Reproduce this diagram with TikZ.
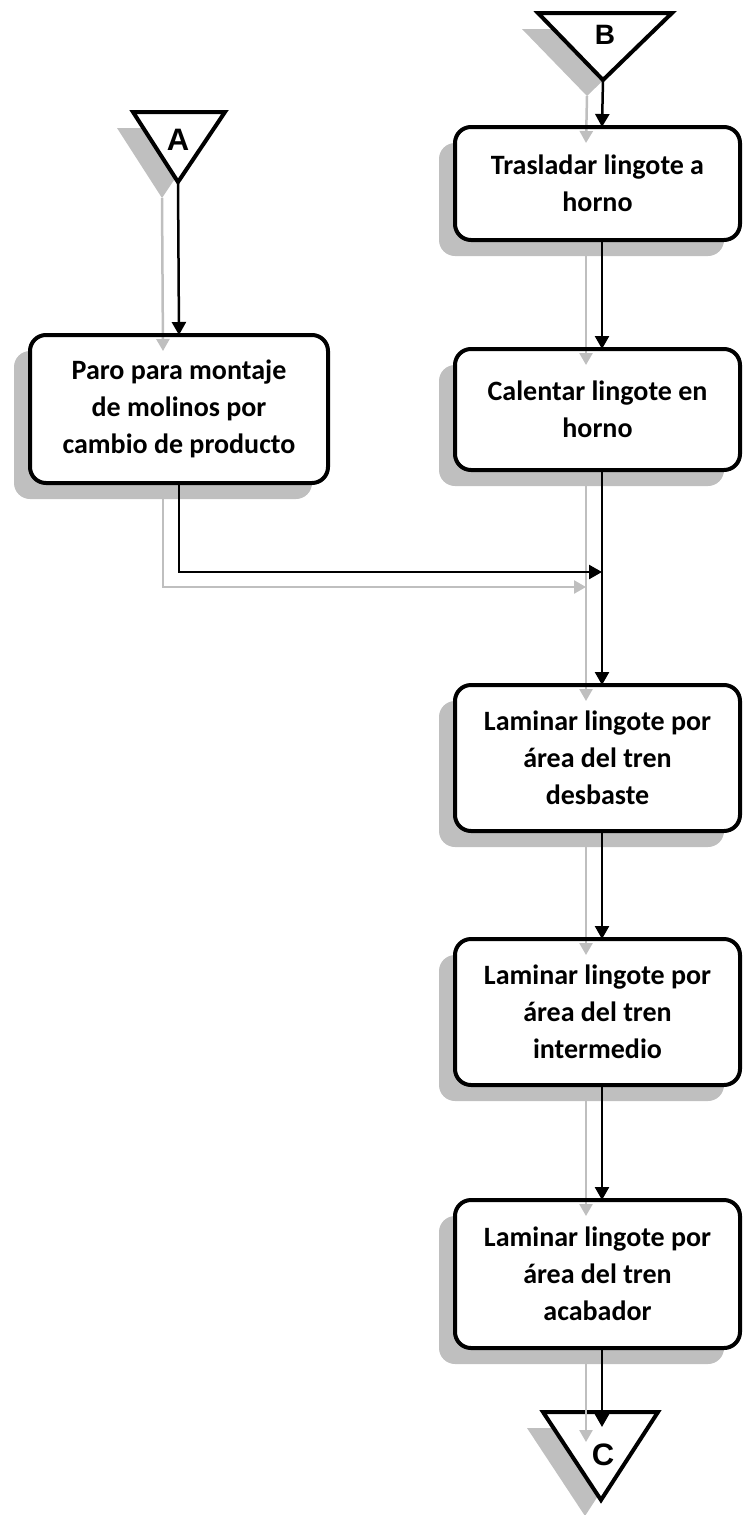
\documentclass[tikz,border=0pt]{standalone}
\usepackage{fontspec}
\setmainfont{Carlito}
\newfontfamily\letterfont{Liberation Sans}
\usetikzlibrary{arrows.meta,shadows,calc}
\definecolor{shgray}{HTML}{BFBFBF}
\begin{document}
\begin{tikzpicture}[x=1pt,y=-1pt,
  boxfill/.style={rectangle, rounded corners=16pt, fill=white, inner sep=0pt, outer sep=0pt,
    align=center, font=\fontsize{28}{37}\selectfont\bfseries,
    drop shadow={shadow xshift=-16pt, shadow yshift=-16pt, fill=shgray, opacity=1}},
  boxline/.style={draw=black, line width=4pt, rounded corners=16pt},
  triline/.style={draw=black, fill=white, line width=4pt, line join=miter},
  trishadow/.style={fill=shgray},
  arr/.style={draw=black, line width=2.5pt, -{Triangle[width=14pt,length=13pt]}},
  grayarr/.style={draw=shgray, line width=2.5pt, -{Triangle[width=13pt,length=12pt]}},
  letter/.style={font=\letterfont\bfseries\fontsize{31}{31}\selectfont, inner sep=0pt}
]
\useasboundingbox (0,0) rectangle (743,1515);
\coordinate (colR) at (602,0);

% triangle shadows
\fill[trishadow] (522,29) -- (656,29) -- (587,96) -- cycle;
\fill[trishadow] (117,128) -- (209,128) -- (162,198) -- cycle;
\fill[trishadow] (527,1428) -- (642,1428) -- (585,1516) -- cycle;

% boxes (fill + shadow)
\node[boxfill, minimum width=285pt, minimum height=113pt] (b1) at (597.5,183.5) {Trasladar lingote a\\horno};
\node[boxfill, minimum width=285pt, minimum height=121pt] (b2) at (597.5,409.5) {Calentar lingote en\\horno};
\node[boxfill, minimum width=298pt, minimum height=148pt] (p) at (179,409) {Paro para montaje\\de molinos por\\cambio de producto};
\node[boxfill, minimum width=285pt, minimum height=146pt] (b3) at (597.5,758) {Laminar lingote por\\área del tren\\desbaste};
\node[boxfill, minimum width=285pt, minimum height=146pt] (b4) at (597.5,1012) {Laminar lingote por\\área del tren\\intermedio};
\node[boxfill, minimum width=285pt, minimum height=148pt] (b5) at (597.5,1274) {Laminar lingote por\\área del tren\\acabador};

% triangles
\draw[triline] (538,13) -- (672,13) -- (603,80) -- cycle;
\coordinate (tB) at (603,80);
\draw[triline] (133,112) -- (225,112) -- (178,182) -- cycle;
\coordinate (tA) at (178,182);
\draw[triline] (543,1412) -- (658,1412) -- (601,1500) -- cycle;
\coordinate (cin) at (602,1427);
\coordinate (j) at (602,572);

% gray shadow connectors
\draw[grayarr] ($(tB)+(-16pt,-16pt)$) -- ($(b1.north -| colR)+(-16pt,-16pt)$);
\draw[grayarr] ($(tA)+(-16pt,-16pt)$) -- ($(p.north)+(-16pt,-16pt)$);
\draw[grayarr] ($(b1.south -| colR)+(-16pt,-16pt)$) -- ($(b2.north -| colR)+(-16pt,-16pt)$);
\draw[grayarr] ($(b2.south -| colR)+(-16pt,-16pt)$) -- ($(b3.north -| colR)+(-16pt,-16pt)$);
\draw[grayarr] ($(p.south)+(-16pt,-16pt)$) |- ($(j)+(-16pt,-15pt)$);
\draw[grayarr] ($(b3.south -| colR)+(-16pt,-16pt)$) -- ($(b4.north -| colR)+(-16pt,-16pt)$);
\draw[grayarr] ($(b4.south -| colR)+(-16pt,-16pt)$) -- ($(b5.north -| colR)+(-16pt,-16pt)$);
\draw[grayarr] ($(b5.south -| colR)+(-16pt,-16pt)$) -- ($(cin)+(-16pt,-15pt)$);

% box borders
\foreach \n in {b1,b2,p,b3,b4,b5} {
  \draw[boxline] (\n.north west) rectangle (\n.south east);
}

% black connectors
\draw[arr] (tB) -- (b1.north -| colR);
\draw[arr] (tA) -- (p.north);
\draw[arr] (b1.south -| colR) -- (b2.north -| colR);
\draw[black, line width=2.5pt] (b2.south -| colR) -- (j);
\draw[arr] (j) -- (b3.north -| colR);
\draw[arr] (p.south) |- (j);
\draw[arr] (b3.south -| colR) -- (b4.north -| colR);
\draw[arr] (b4.south -| colR) -- (b5.north -| colR);
\draw[arr] (b5.south -| colR) -- (cin);

% letters
\node[letter] (la) at (178,140) {A};
\node[letter, font=\letterfont\bfseries\fontsize{28}{28}\selectfont] (lb) at (605,35) {B};
\node[letter] (lc) at (603,1455) {C};
\end{tikzpicture}
\end{document}
